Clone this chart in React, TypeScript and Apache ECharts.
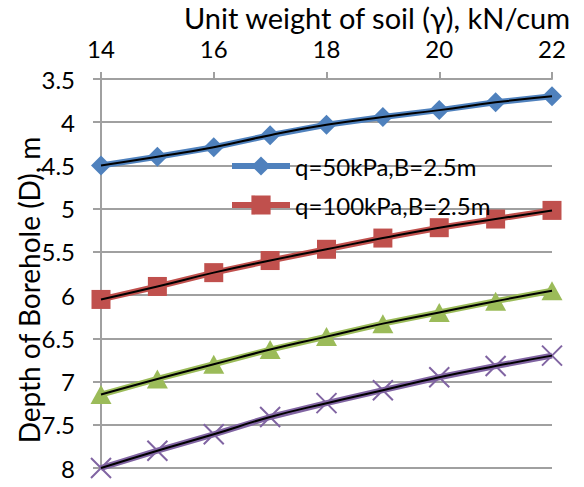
import React, { useEffect, useRef } from "react";
import * as echarts from "echarts";

const unitWeight = [14, 15, 16, 17, 18, 19, 20, 21, 22];
const depthQ50 = [4.5, 4.4, 4.29, 4.15, 4.03, 3.94, 3.86, 3.77, 3.7];
const depthQ100 = [6.05, 5.9, 5.74, 5.6, 5.47, 5.34, 5.22, 5.12, 5.02];
const depthSeries3 = [7.15, 6.97, 6.8, 6.63, 6.48, 6.33, 6.2, 6.07, 5.95];
const depthSeries4 = [8.0, 7.8, 7.61, 7.41, 7.25, 7.1, 6.95, 6.82, 6.7];

const seriesNames = ["q=50kPa,B=2.5m", "q=100kPa,B=2.5m", "series3", "series4"];
const legendNames = ["q=50kPa,B=2.5m", "q=100kPa,B=2.5m"];
const xTitle = "Unit weight of soil (γ), kN/cum";
const yTitle = "Depth of Borehole (D), m";

const FONT = "Lato, 'Liberation Sans', sans-serif";

const pair = (ys: number[]) => unitWeight.map((x, i) => [x, ys[i]]);

export default function App() {
  const ref = useRef<HTMLDivElement>(null);
  useEffect(() => {
    if (!ref.current) return;
    const chart = echarts.init(ref.current, null, { renderer: "svg" });
    const colors = ["#4F81BD", "#C0504D", "#9BBB59", "#8064A2"];
    const symbols = ["diamond", "rect", "triangle", "path://M0,0L10,10M10,0L0,10"];
    const sizes: any[] = [[20, 20], 19, [21, 19], 20];
    const datas = [depthQ50, depthQ100, depthSeries3, depthSeries4];
    const colored = datas.map((d, i) => ({
      name: seriesNames[i],
      type: "line",
      data: pair(d),
      symbol: symbols[i],
      symbolSize: sizes[i],
      showSymbol: true,
      clip: false,
      lineStyle: { color: colors[i], width: 6 },
      itemStyle: i === 3
        ? { color: colors[i], borderColor: colors[i], borderWidth: 2 }
        : { color: colors[i], borderWidth: 0 },
      z: 2,
    }));
    const trends = datas.map((d, i) => ({
      name: "trend" + i,
      type: "line",
      data: pair(d),
      smooth: true,
      symbol: "none",
      clip: false,
      lineStyle: { color: "#000", width: 2 },
      z: 5,
      silent: true,
    }));
    chart.setOption({
      animation: false,
      textStyle: { fontFamily: FONT },
      grid: { left: 101, right: 32, top: 79, bottom: 19, containLabel: false },
      xAxis: {
        type: "value",
        position: "top",
        min: 14,
        max: 22,
        interval: 2,
        axisLine: { show: true, lineStyle: { color: "#A0A0A0", width: 2 } },
        axisTick: { show: true, inside: false, length: 7, lineStyle: { color: "#A0A0A0", width: 2 } },
        axisLabel: { color: "#000", fontSize: 24, lineHeight: 22, margin: 20, fontFamily: FONT },
        splitLine: { show: false },
      },
      yAxis: {
        type: "value",
        inverse: true,
        min: 3.5,
        max: 8,
        interval: 0.5,
        axisLine: { show: true, onZero: false, lineStyle: { color: "#A0A0A0", width: 2 } },
        axisTick: { show: true, length: 8, lineStyle: { color: "#A0A0A0", width: 2 } },
        axisLabel: { color: "#000", fontSize: 24, margin: 26, fontFamily: FONT },
        splitLine: { show: true, lineStyle: { color: "#A0A0A0", width: 2 } },
      },
      legend: {
        data: legendNames,
        orient: "vertical",
        left: 229,
        top: 154,
        padding: 0,
        itemWidth: 58,
        itemHeight: 24,
        itemGap: 15,
        lineStyle: { width: 6 },
        textStyle: { color: "#000", fontSize: 24, fontFamily: FONT },
      },
      graphic: [
        {
          type: "text",
          x: 377,
          y: 17,
          style: {
            text: xTitle,
            fontSize: 29,
            lineHeight: 26,
            fontFamily: FONT,
            fill: "#000",
            textAlign: "center",
            textVerticalAlign: "middle",
          },
        },
        {
          type: "text",
          x: 29,
          y: 290,
          rotation: Math.PI / 2,
          style: {
            text: yTitle,
            fontSize: 28,
            fontFamily: FONT,
            fill: "#000",
            textAlign: "center",
            textVerticalAlign: "middle",
          },
        },
      ],
      series: [...colored, ...trends],
    });
    return () => chart.dispose();
  }, []);
  return (
    <div
      ref={ref}
      style={{ position: "fixed", left: 0, top: 0, width: 584, height: 487, background: "#fff" }}
    />
  );
}
